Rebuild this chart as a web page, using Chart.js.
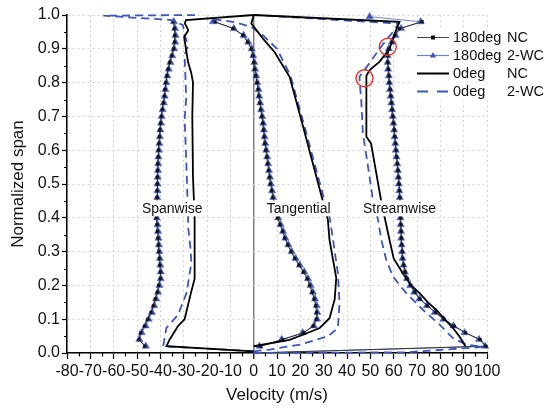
<!DOCTYPE html>
<html>
<head>
<meta charset="utf-8">
<script src="https://cdn.jsdelivr.net/npm/chart.js@4.4.1/dist/chart.umd.min.js"></script>
<style>
  html, body { margin: 0; padding: 0; background: #fff; }
  #wrap { width: 549px; height: 410px; }
</style>
</head>
<body>
<div id="wrap"><canvas id="chart" width="549" height="410"></canvas></div>
<script>
// Velocity profiles across the span: spanwise / tangential / streamwise components
const FONT = "'Liberation Sans', Arial, sans-serif";

// x axis ticks
const velMin = -80, velMax = 100, velStep = 10;

// 180deg measurements share one span grid
const span180 = [0.02, 0.04, 0.06, 0.08, 0.10, 0.12, 0.14, 0.16, 0.18, 0.20,
  0.22, 0.24, 0.26, 0.28, 0.30, 0.32, 0.34, 0.36, 0.38, 0.40,
  0.42, 0.44, 0.46, 0.48, 0.50, 0.52, 0.54, 0.56, 0.58, 0.60,
  0.62, 0.64, 0.66, 0.68, 0.70, 0.72, 0.74, 0.76, 0.78, 0.80,
  0.82, 0.84, 0.86, 0.88, 0.90, 0.92, 0.94, 0.96, 0.98];

const spanwise180NC = [-46.7, -49.2, -48.4, -46.8, -45.4, -44.0, -43.0, -42.2, -41.3, -40.7,
  -40.0, -40.0, -40.2, -40.4, -40.6, -40.8, -41.0, -41.2, -41.4, -41.7,
  -41.6, -41.5, -41.4, -41.4, -41.3, -41.3, -41.2, -41.1, -40.9, -40.8,
  -40.6, -40.4, -40.2, -39.9, -39.6, -39.2, -38.7, -38.3, -38.0, -37.7,
  -37.2, -36.7, -36.0, -35.1, -34.3, -33.9, -33.8, -34.0, -34.5];
const spanwise180WC = [-46.2, -49.0, -48.0, -46.3, -45.0, -43.6, -42.6, -41.8, -41.0, -40.4,
  -39.8, -39.8, -40.0, -40.2, -40.4, -40.6, -40.8, -41.0, -41.2, -41.5,
  -41.4, -41.4, -41.3, -41.2, -41.2, -41.1, -41.0, -40.9, -40.8, -40.6,
  -40.4, -40.2, -40.0, -39.7, -39.4, -39.0, -38.5, -38.1, -37.8, -37.4,
  -37.0, -36.4, -35.7, -34.9, -34.1, -33.6, -33.5, -33.7, -34.2];

const tangential180NC = [3.0, 12.5, 21.5, 25.5, 26.8, 26.9, 26.6, 25.9, 25.0, 24.0,
  22.9, 21.3, 19.4, 17.6, 16.0, 14.6, 13.3, 12.4, 11.3, 10.3,
  9.5, 8.8, 8.2, 7.7, 7.2, 6.8, 6.4, 6.0, 5.6, 5.2,
  4.8, 4.5, 4.2, 3.9, 3.5, 3.0, 2.6, 2.2, 1.9, 1.4,
  0.9, 0.4, 0.1, -0.4, -1.0, -2.6, -4.6, -8.8, -16.5];
const tangential180WC = [2.5, 12.0, 21.0, 25.8, 27.2, 27.3, 27.0, 26.3, 25.4, 24.4,
  23.3, 21.7, 19.8, 18.0, 16.3, 14.9, 13.6, 12.6, 11.5, 10.5,
  9.7, 9.0, 8.4, 7.9, 7.4, 7.0, 6.6, 6.2, 5.8, 5.4,
  5.0, 4.7, 4.4, 4.1, 3.7, 3.2, 2.8, 2.4, 2.1, 1.6,
  1.1, 0.6, 0.3, -0.2, -0.8, -2.3, -4.3, -8.5, -17.4];

const streamwise180NC = [99.6, 97.0, 90.8, 86.0, 81.6, 78.0, 74.5, 71.3, 69.0, 67.3,
  65.8, 64.9, 64.3, 63.9, 63.7, 63.5, 63.3, 63.2, 63.1, 63.0,
  62.9, 62.8, 62.7, 62.5, 62.3, 62.1, 61.9, 61.6, 61.3, 61.0,
  60.8, 60.5, 60.3, 60.0, 59.7, 59.4, 59.1, 58.8, 58.5, 58.2,
  58.0, 57.7, 57.5, 57.5, 58.0, 59.4, 60.5, 62.5, 72.2];
const streamwise180WC = [99.2, 96.6, 90.4, 85.6, 81.3, 77.6, 74.2, 71.0, 68.8, 67.1,
  65.6, 64.8, 64.2, 63.8, 63.6, 63.4, 63.2, 63.1, 63.0, 62.9,
  62.8, 62.7, 62.6, 62.4, 62.2, 62.0, 61.8, 61.5, 61.2, 60.9,
  60.7, 60.4, 60.2, 59.9, 59.6, 59.3, 59.0, 58.7, 58.4, 58.1,
  57.9, 57.6, 57.4, 57.4, 57.9, 59.2, 60.8, 63.2, 71.6];

// hub-side start of the 180deg streamwise traces, shroud-side end of the 2-WC one
const stream180HubV = [0.0];
const stream180HubS = [0.0];
const stream180WCTipV = [49.7];
const stream180WCTipS = [0.995];

// 0deg NC (solid)
const spanwise0NC = [0, -37.4, -36.0, -32.4, -29.6, -26.8, -25.3, -25.3, -26.0, -26.3, -26.0, -26.8, -28.1, -29.0, -29.8, -28.0, -29.5, -29.0, 0];
const spanwise0NCSpan = [0.005, 0.02, 0.04, 0.08, 0.10, 0.18, 0.22, 0.40, 0.52, 0.70, 0.80, 0.83, 0.86, 0.90, 0.935, 0.955, 0.975, 0.985, 1.0];
const tangential0NC = [0, 15.4, 21.1, 28.3, 32.5, 34.7, 35.4, 34.0, 32.5, 31.8, 29.7, 20.4, 15.4, 9.0, 4.0, -1.0, 0];
const tangential0NCSpan = [0.02, 0.039, 0.054, 0.074, 0.103, 0.158, 0.222, 0.276, 0.335, 0.394, 0.448, 0.69, 0.817, 0.89, 0.93, 0.975, 1.0];
const streamwise0NC = [90.8, 88.2, 85.4, 81.8, 78.2, 74.7, 71.1, 67.5, 63.9, 60.0, 58.2, 54.7, 50.3, 48.3, 48.3, 49.7, 54.0, 58.2, 61.1, 62.5, 0];
const streamwise0NCSpan = [0.02, 0.049, 0.074, 0.10, 0.128, 0.15, 0.177, 0.20, 0.236, 0.28, 0.335, 0.448, 0.62, 0.64, 0.82, 0.837, 0.862, 0.90, 0.956, 0.98, 1.0];

// 0deg 2-WC (dashed)
const spanwise0WC = [0, -38.8, -37.4, -32.4, -28.8, -26.7, -27.0, -28.1, -28.1, -29.0, -29.6, -28.9, -29.6, -28.1, -29.6, -30.3, -35.0, -64.5, -23.0];
const spanwise0WCSpan = [0.005, 0.02, 0.074, 0.113, 0.177, 0.266, 0.305, 0.374, 0.404, 0.591, 0.69, 0.754, 0.882, 0.911, 0.941, 0.97, 0.985, 0.998, 1.0];
const tangential0WC = [0, 6.9, 19.7, 31.8, 36.1, 36.8, 36.1, 34.0, 32.6, 30.5, 21.0, 15.8, 10.0, 4.0, -1.0, -9.0, -20.0];
const tangential0WCSpan = [0.005, 0.01, 0.025, 0.049, 0.074, 0.148, 0.236, 0.335, 0.40, 0.448, 0.69, 0.82, 0.90, 0.94, 0.965, 0.98, 0.99];
const streamwise0WC = [0, 65.4, 98.2, 91.1, 85.4, 79.7, 72.5, 65.4, 59.7, 56.8, 54.7, 53.3, 51.1, 49.0, 46.8, 46.1, 45.4, 45.4, 47.5, 55.0, 60.4, 62.0, 0];
const streamwise0WCSpan = [0, 0.002, 0.018, 0.025, 0.044, 0.084, 0.128, 0.177, 0.226, 0.276, 0.335, 0.394, 0.453, 0.552, 0.65, 0.749, 0.803, 0.818, 0.837, 0.91, 0.956, 0.975, 1.0];

// highlighted points
const circleV = [57.5, 47.5];
const circleS = [0.906, 0.813];

// component names written on the plot
const componentNames = ['Spanwise', 'Tangential', 'Streamwise'];
const componentNameV = [-34.9, 19.3, 62.5];
const componentNameS = [0.428, 0.428, 0.428];

// legend
const legendNames = ['180deg', '180deg', '0deg', '0deg'];
const legendCases = ['NC', '2-WC', 'NC', '2-WC'];

const BLUE = '#3a57bd';
const TRI_BLUE = '#3d57b8';
const LIGHT_BLUE = '#6c84d2';
const RED = '#e2332e';
const GRID = '#d0d0d0';

function pts(xs, ys) {
  return xs.map((x, i) => ({ x: x, y: ys[i] }));
}

const SQ_R = 1.9, TRI_R = 4.2;
const solid0 = { borderColor: '#000', borderWidth: 1.8, pointRadius: 0 };
const dashed0 = { borderColor: BLUE, borderWidth: 1.8, borderDash: [8, 5], pointRadius: 0 };
const nc180 = {
  borderColor: '#333', borderWidth: 1, pointStyle: 'rect', pointRadius: SQ_R,
  pointBackgroundColor: '#111', pointBorderColor: '#111', pointBorderWidth: 0.4
};
const wc180 = {
  borderColor: LIGHT_BLUE, borderWidth: 1, pointStyle: 'triangle', pointRadius: TRI_R,
  pointBackgroundColor: TRI_BLUE, pointBorderColor: TRI_BLUE, pointBorderWidth: 0.4
};

function lineSet(data, style) {
  return Object.assign({ data: data, showLine: true, tension: 0, clip: false, pointHoverRadius: 0 }, style);
}

// the hub point only anchors the line, no marker there
const hideHub = r => ctx => ctx.dataIndex === 0 ? 0 : r;

const datasets = [
  {
    data: pts(circleV, circleS), showLine: false, clip: false,
    pointStyle: 'circle', pointRadius: 8.5, pointBorderWidth: 1.4,
    pointBorderColor: RED, pointBackgroundColor: 'rgba(0,0,0,0)'
  },
  // 0deg NC
  lineSet(pts(spanwise0NC, spanwise0NCSpan), solid0),
  lineSet(pts(tangential0NC, tangential0NCSpan), solid0),
  lineSet(pts(streamwise0NC, streamwise0NCSpan), solid0),
  // 0deg 2-WC
  lineSet(pts(spanwise0WC, spanwise0WCSpan), dashed0),
  lineSet(pts(tangential0WC, tangential0WCSpan), dashed0),
  lineSet(pts(streamwise0WC, streamwise0WCSpan), dashed0),
  // 180deg NC
  lineSet(pts(spanwise180NC, span180), nc180),
  lineSet(pts(tangential180NC, span180), nc180),
  lineSet(pts(stream180HubV.concat(streamwise180NC), stream180HubS.concat(span180)),
    Object.assign({}, nc180, { pointRadius: hideHub(SQ_R) })),
  // 180deg 2-WC
  lineSet(pts(spanwise180WC, span180), wc180),
  lineSet(pts(tangential180WC, span180), wc180),
  lineSet(pts(stream180HubV.concat(streamwise180WC, stream180WCTipV),
              stream180HubS.concat(span180, stream180WCTipS)),
    Object.assign({}, wc180, { pointRadius: hideHub(TRI_R) }))
];

// minor ticks halfway between the labelled ones
const minorTicks = {
  id: 'minorTicks',
  afterDraw(chart) {
    const ctx = chart.ctx;
    const xs = chart.scales.x, ys = chart.scales.y;
    const area = chart.chartArea;
    ctx.save();
    ctx.strokeStyle = '#000';
    ctx.lineWidth = 1.2;
    ctx.beginPath();
    for (let i = 0; i < xs.ticks.length - 1; i++) {
      const px = Math.round(xs.getPixelForValue((xs.ticks[i].value + xs.ticks[i + 1].value) / 2)) + 0.5;
      ctx.moveTo(px, area.bottom);
      ctx.lineTo(px, area.bottom + 3.5);
    }
    for (let i = 0; i < ys.ticks.length - 1; i++) {
      const py = Math.round(ys.getPixelForValue((ys.ticks[i].value + ys.ticks[i + 1].value) / 2)) + 0.5;
      ctx.moveTo(area.left, py);
      ctx.lineTo(area.left - 3, py);
    }
    ctx.stroke();
    ctx.restore();
  }
};

// component names on white boxes
const componentLabels = {
  id: 'componentLabels',
  afterDatasetsDraw(chart) {
    const ctx = chart.ctx;
    ctx.save();
    ctx.font = '14px ' + FONT;
    ctx.textAlign = 'center';
    ctx.textBaseline = 'middle';
    componentNames.forEach((name, i) => {
      const x = chart.scales.x.getPixelForValue(componentNameV[i]);
      const y = chart.scales.y.getPixelForValue(componentNameS[i]);
      const w = ctx.measureText(name).width;
      ctx.fillStyle = '#fff';
      ctx.fillRect(x - w / 2 - 2, y - 8, w + 4, 16);
      ctx.fillStyle = '#111';
      ctx.fillText(name, x, y + 0.5);
    });
    ctx.restore();
  }
};

// legend box at the upper right
const sideLegend = {
  id: 'sideLegend',
  afterDraw(chart) {
    const ctx = chart.ctx;
    const x0 = 417, x1 = 449, textX = 453, caseX = 507;
    const rowY = [37, 55, 73, 91];
    ctx.save();
    ctx.fillStyle = '#fff';
    ctx.fillRect(410, 27, 139, 74);
    legendNames.forEach((name, i) => {
      const y = rowY[i];
      ctx.save();
      if (i === 0) { ctx.strokeStyle = '#444'; ctx.lineWidth = 1; }
      if (i === 1) { ctx.strokeStyle = LIGHT_BLUE; ctx.lineWidth = 1.2; }
      if (i === 2) { ctx.strokeStyle = '#000'; ctx.lineWidth = 2; }
      if (i === 3) { ctx.strokeStyle = BLUE; ctx.lineWidth = 2; ctx.setLineDash([11, 9]); }
      ctx.beginPath();
      ctx.moveTo(x0, y + 0.5);
      ctx.lineTo(x1, y + 0.5);
      ctx.stroke();
      ctx.restore();
      const mx = (x0 + x1) / 2;
      if (i === 0) {
        ctx.fillStyle = '#111';
        ctx.fillRect(mx - 2, y - 1.5, 4, 4);
      }
      if (i === 1) {
        ctx.fillStyle = TRI_BLUE;
        ctx.beginPath();
        ctx.moveTo(mx, y - 3);
        ctx.lineTo(mx + 3.2, y + 2.6);
        ctx.lineTo(mx - 3.2, y + 2.6);
        ctx.closePath();
        ctx.fill();
      }
      ctx.fillStyle = '#111';
      ctx.font = '14.5px ' + FONT;
      ctx.textBaseline = 'middle';
      ctx.textAlign = 'left';
      ctx.fillText(name, textX, y + 1);
      ctx.fillText(legendCases[i], caseX, y + 1);
    });
    ctx.restore();
  }
};

new Chart(document.getElementById('chart'), {
  type: 'scatter',
  data: { datasets: datasets },
  options: {
    responsive: false,
    animation: false,
    events: [],
    layout: { padding: { top: 15, right: 62, bottom: 0, left: 0 } },
    plugins: {
      legend: { display: false },
      tooltip: { enabled: false }
    },
    scales: {
      x: {
        type: 'linear',
        min: velMin,
        max: velMax,
        afterFit: s => { s.height = 57; s.paddingLeft = 0; s.paddingRight = 0; },
        ticks: {
          stepSize: velStep,
          autoSkip: false,
          maxRotation: 0,
          padding: 3,
          color: '#111',
          font: { family: FONT, size: 16 }
        },
        grid: {
          color: ctx => ctx.tick && ctx.tick.value === 0 ? '#808080' : GRID,
          lineWidth: ctx => ctx.tick && ctx.tick.value === 0 ? 1.5 : 1,
          tickLength: 6,
          tickColor: '#000',
          tickWidth: 1.2
        },
        border: {
          color: '#000',
          width: 1.5,
          dash: ctx => ctx.tick && ctx.tick.value === 0 ? [] : [2, 3]
        },
        title: {
          display: true,
          text: 'Velocity (m/s)',
          color: '#111',
          font: { family: FONT, size: 17 },
          padding: { top: 4, bottom: 4 }
        }
      },
      y: {
        type: 'linear',
        min: 0,
        max: 1,
        afterFit: s => { s.width = 67; s.paddingTop = 0; s.paddingBottom = 0; },
        ticks: {
          stepSize: 0.1,
          padding: 2,
          color: '#111',
          font: { family: FONT, size: 16 },
          callback: v => v.toFixed(1)
        },
        grid: {
          color: GRID,
          lineWidth: 1,
          tickLength: 5,
          tickColor: '#000',
          tickWidth: 1.2
        },
        border: { color: '#000', width: 1.5, dash: [2, 3] },
        title: {
          display: true,
          text: 'Normalized span',
          color: '#111',
          font: { family: FONT, size: 17 },
          padding: { top: 8, bottom: 4 }
        }
      }
    }
  },
  plugins: [minorTicks, componentLabels, sideLegend]
});
</script>
</body>
</html>
